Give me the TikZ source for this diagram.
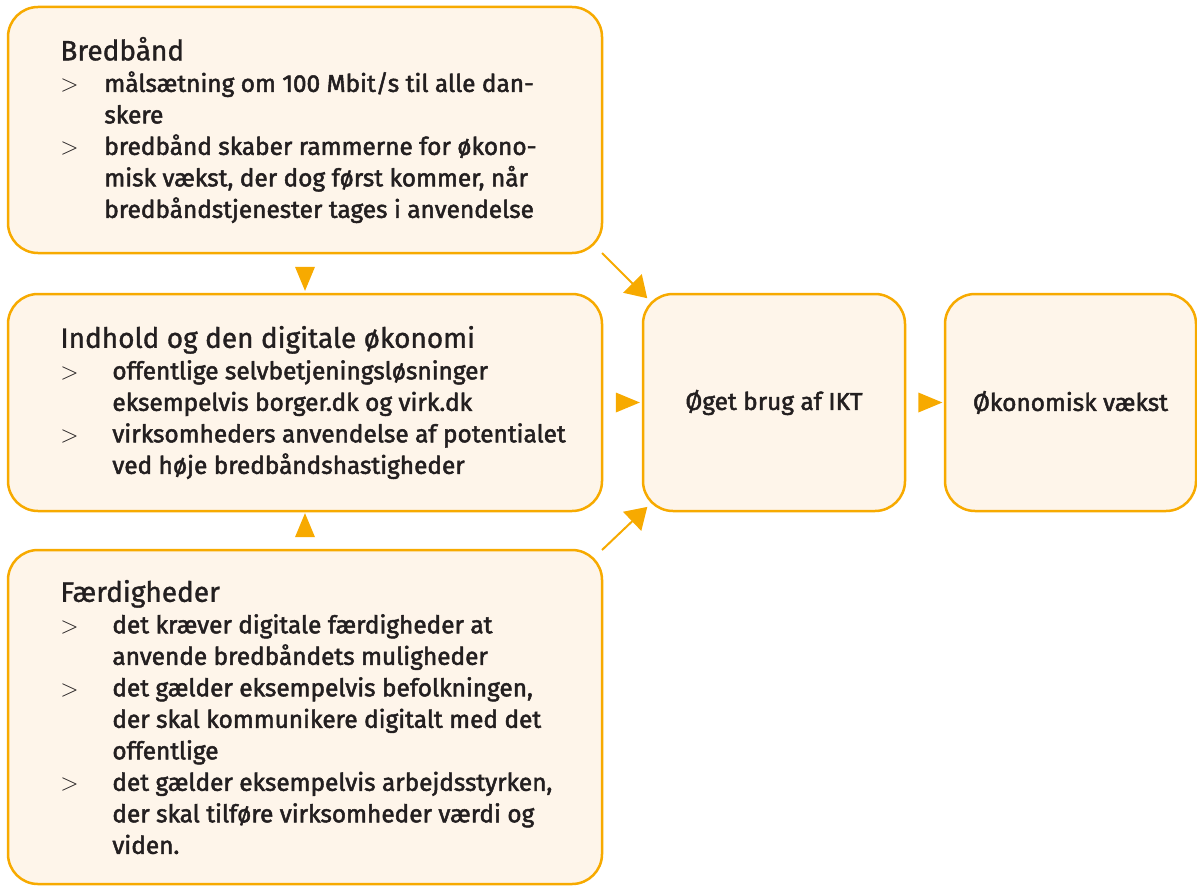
\documentclass[tikz,border=0pt]{standalone}
\usepackage{fontspec}
\setmainfont{Fira Sans}
\newfontfamily\brodfont{Fira Sans}[FakeBold=2]
\newfontfamily\titelfont{Fira Sans}[FakeBold=1.2]
\usetikzlibrary{positioning, calc, shapes.geometric, arrows.meta}

\definecolor{ramme}{RGB}{247,170,0}
\definecolor{bund}{RGB}{254,245,234}
\definecolor{tekst}{RGB}{35,31,32}

\newcommand{\titel}[1]{{\titelfont\fontsize{14}{15.75}\selectfont #1}}
\newcommand{\punkt}[1][26pt]{\makebox[#1][l]{$>$}}
\newcommand{\ryk}[1][26pt]{\hspace*{#1}}

\begin{document}
\begin{tikzpicture}[x=0.5pt, y=-0.5pt,
    boks/.style={rectangle, rounded corners=15pt, draw=ramme, line width=1.25pt, fill=bund,
      inner sep=0pt, outer sep=0pt, text=tekst, font=\brodfont\fontsize{12.2}{15.75}\selectfont},
    tekstblok/.style={align=left, inner sep=0pt, text=tekst, font=\brodfont\fontsize{12.2}{15.75}\selectfont},
    trekant/.style={isosceles triangle, isosceles triangle stretches, fill=ramme, inner sep=0pt,
      minimum width=10pt, minimum height=12pt},
    pil/.style={draw=ramme, line width=1pt, -{Triangle[length=10.5pt,width=13pt]}, shorten >=-3pt}]
  \useasboundingbox (0,0) rectangle (1197,888);
  % Define the nodes
  \node (bredbaand) [boks, anchor=north west, minimum width=297pt, minimum height=123pt] at (8,7) {};
  \node (indhold) [boks, below=20.5pt of bredbaand, minimum width=297pt, minimum height=108.5pt] {};
  \node (faerdig) [boks, below=19.5pt of indhold, minimum width=297pt, minimum height=167pt] {};
  \node (oeget) [boks, right=20.5pt of indhold, minimum width=131pt, minimum height=108.5pt] {Øget brug af IKT};
  \node (vaekst) [boks, right=20pt of oeget, minimum width=125.5pt, minimum height=108.5pt] {Økonomisk vækst};
  % Texts in the boxes
  \node (bredtekst) [tekstblok, anchor=west] at ([xshift=26pt]bredbaand.west) {%
    \titel{Bredbånd}\\
    \punkt[22pt]målsætning om 100 Mbit/s til alle dan-\\
    \ryk[22pt]skere\\
    \punkt[22pt]bredbånd skaber rammerne for økono-\\
    \ryk[22pt]misk vækst, der dog først kommer, når\\
    \ryk[22pt]bredbåndstjenester tages i anvendelse};
  \node (indtekst) [tekstblok, anchor=west] at ([xshift=26pt]indhold.west) {%
    \titel{Indhold og den digitale økonomi}\\
    \punkt offentlige selvbetjeningsløsninger\\
    \ryk eksempelvis borger.dk og virk.dk\\
    \punkt virksomheders anvendelse af potentialet\\
    \ryk ved høje bredbåndshastigheder};
  \node (faerdtekst) [tekstblok, anchor=west] at ([xshift=26pt]faerdig.west) {%
    \titel{Færdigheder}\\
    \punkt det kræver digitale færdigheder at\\
    \ryk anvende bredbåndets muligheder\\
    \punkt det gælder eksempelvis befolkningen,\\
    \ryk der skal kommunikere digitalt med det\\
    \ryk offentlige\\
    \punkt det gælder eksempelvis arbejdsstyrken,\\
    \ryk der skal tilføre virksomheder værdi og\\
    \ryk viden.};
  % Triangles between the boxes
  \node (ned) [trekant, rotate=-90] at ($(bredbaand.south)!0.5!(indhold.north)$) {};
  \node (op) [trekant, rotate=90] at ($(faerdig.north)!0.5!(indhold.south)$) {};
  \node (hoejre) [trekant] at ($(indhold.east)!0.5!(oeget.west)$) {};
  \node (hoejre2) [trekant] at ($(oeget.east)!0.5!(vaekst.west)$) {};
  % Connect the nodes
  \draw [pil] (bredbaand.south east) -- (oeget.north west);
  \draw [pil] (faerdig.north east) -- (oeget.south west);
\end{tikzpicture}
\end{document}
